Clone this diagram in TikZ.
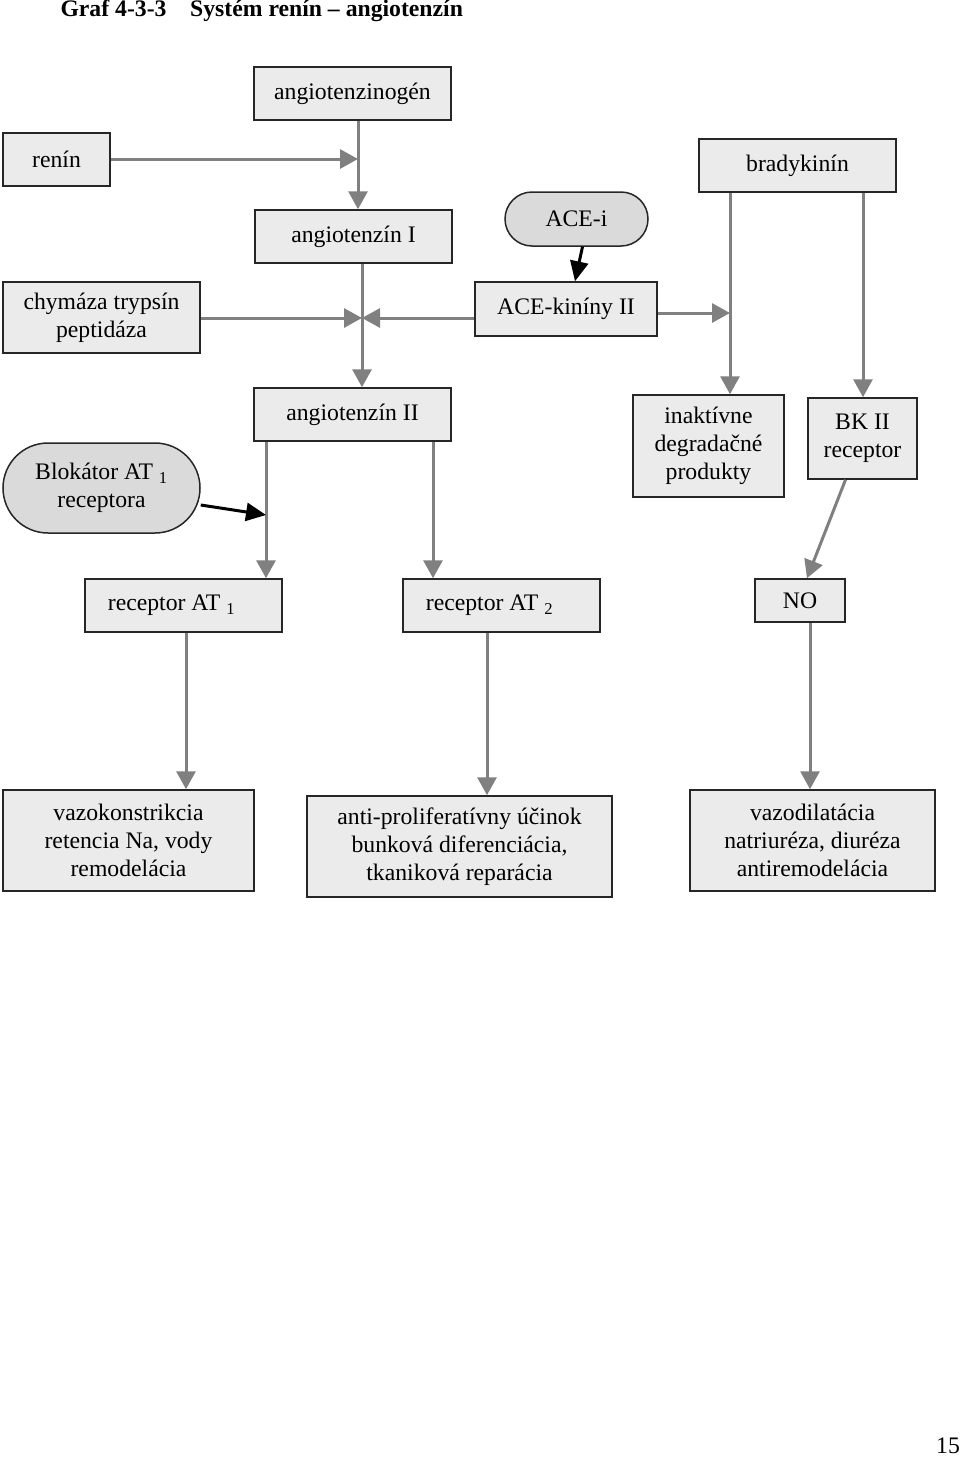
\documentclass[tikz,border=0pt]{standalone}
\usepackage{fontspec}
\setmainfont{Liberation Serif}
\usetikzlibrary{arrows.meta,shapes.misc}
\definecolor{boxfill}{HTML}{EBEBEB}
\definecolor{pillfill}{HTML}{DADADA}
\definecolor{flowgray}{HTML}{808080}
\definecolor{edge}{HTML}{262626}
\tikzset{
    box/.style={draw=edge, line width=1.5pt, fill=boxfill, inner sep=0pt, align=center},
    pill/.style={rounded rectangle, draw=edge, line width=1.5pt, fill=pillfill, inner sep=0pt, align=center},
    flow/.style={draw=flowgray, line width=3pt, -{Triangle[length=18pt,width=19pt]}},
    block/.style={draw=black, line width=3pt, -{Triangle[length=20pt,width=18pt]}}
}

\begin{document}
\begin{tikzpicture}[x=1pt, y=-1pt, font=\fontsize{23.7}{28}\selectfont]
    \useasboundingbox (0,0) rectangle (960,1457);

    % title and page number
    \node[anchor=west, font=\fontsize{23.7}{28}\selectfont\bfseries] (title) at (57,11) {Graf 4-3-3\quad Systém renín -- angiotenzín};
    \node (page) at (948,1446) {15};

    % top part
    \node[box, minimum width=197, minimum height=53] (agen) at (352.5,93.5) {angiotenzinogén};
    \node[box, minimum width=107, minimum height=53] (renin) at (56.5,159.5) {renín};
    \node[box, minimum width=197, minimum height=53] (brady) at (797.5,165.5) {bradykinín};
    \node[box, minimum width=197, minimum height=53] (angI) at (353.5,236.5) {angiotenzín I};
    \node[pill, minimum width=143, minimum height=54] (acei) at (576.5,219) {ACE-i};
    \node[box, minimum width=197, minimum height=71] (chym) at (101.5,317.5) {chymáza trypsín\\peptidáza};
    \node[box, minimum width=182, minimum height=54] (acek) at (566,309) {ACE-kiníny II};

    % middle part
    \node[box, minimum width=197, minimum height=53] (angII) at (352.5,414.5) {angiotenzín II};
    \node[pill, minimum width=197, minimum height=90] (blok) at (101.5,488) {Blokátor AT \textsubscript{1}\\receptora};
    \node[box, minimum width=151, minimum height=102] (inakt) at (708.5,446) {inaktívne\\degradačné\\produkty};
    \node[box, minimum width=109, minimum height=81] (bk) at (862.5,438.5) {BK II\\receptor};

    % receptors
    \node[box, minimum width=197, minimum height=53] (at1) at (183.5,605.5) {receptor AT \textsubscript{1}\hspace{24pt}\mbox{}};
    \node[box, minimum width=197, minimum height=53] (at2) at (501.5,605.5) {receptor AT \textsubscript{2}\hspace{24pt}\mbox{}};
    \node[box, minimum width=90, minimum height=43] (no) at (800,600.5) {NO};

    % effects
    \node[box, minimum width=251, minimum height=101] (vazok) at (128.5,840.5) {vazokonstrikcia\\retencia Na, vody\\remodelácia};
    \node[box, minimum width=305, minimum height=101] (anti) at (459.5,846.5) {anti-proliferatívny účinok\\bunková diferenciácia,\\tkaniková reparácia};
    \node[box, minimum width=245, minimum height=101] (vazod) at (812.5,840.5) {vazodilatácia\\natriuréza, diuréza\\antiremodelácia};

    % junctions on the lines
    \coordinate (jrenin) at (358,159);
    \coordinate (jchym) at (362,318);
    \coordinate (jbrady) at (730,313);
    \coordinate (jbk) at (863,0);
    \coordinate (jblok) at (266,515);
    \coordinate (jat2) at (433,0);
    \coordinate (jvazok) at (186,0);
    \coordinate (janti) at (487,0);
    \coordinate (jvazod) at (810,0);

    % gray connectors
    \draw[flow] (renin.east |- jrenin) -- (jrenin);
    \draw[flow] (agen.south -| jrenin) -- (angI.north -| jrenin);
    \draw[flow] (angI.south -| jchym) -- (angII.north -| jchym);
    \draw[flow] (chym.east |- jchym) -- (jchym);
    \draw[flow] (acek.west |- jchym) -- (jchym);
    \draw[flow] (acek.east |- jbrady) -- (jbrady);
    \draw[flow] (brady.south -| jbrady) -- (inakt.north -| jbrady);
    \draw[flow] (brady.south -| jbk) -- (bk.north -| jbk);
    \draw[flow] (angII.south -| jblok) -- (at1.north -| jblok);
    \draw[flow] (angII.south -| jat2) -- (at2.north -| jat2);
    \draw[flow] ([xshift=-17pt]bk.south) -- ([xshift=7pt]no.north);
    \draw[flow] (at1.south -| jvazok) -- (vazok.north -| jvazok);
    \draw[flow] (at2.south -| janti) -- (anti.north -| janti);
    \draw[flow] (no.south -| jvazod) -- (vazod.north -| jvazod);

    % black connectors
    \draw[block] ([xshift=6pt]acei.south) -- ([xshift=9pt]acek.north);
    \draw[block] ([yshift=-17pt]blok.east) -- (jblok);
\end{tikzpicture}
\end{document}
